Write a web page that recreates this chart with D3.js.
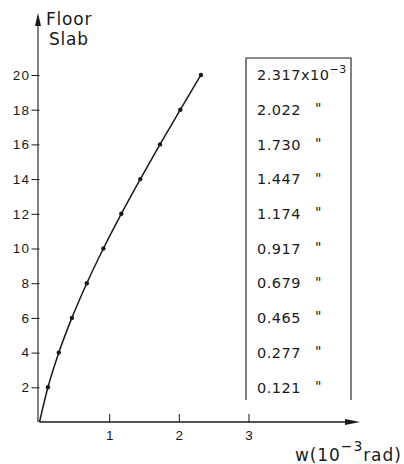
<!DOCTYPE html>
<html>
<head>
<meta charset="utf-8">
<script src="https://cdn.jsdelivr.net/npm/d3@7"></script>
<style>
  html, body { margin: 0; padding: 0; background: #fff; }
  svg { display: block; font-family: "DejaVu Sans", sans-serif; }
</style>
</head>
<body>
<svg id="chart" width="404" height="464"></svg>
<script>
// Slab rotation w (10^-3 rad) at each floor slab
const floors = [0, 2, 4, 6, 8, 10, 12, 14, 16, 18, 20];
const rotation = [0, 0.121, 0.277, 0.465, 0.679, 0.917, 1.174, 1.447, 1.730, 2.022, 2.317];
const tableLabels = ["2.317", "2.022", "1.730", "1.447", "1.174", "0.917", "0.679", "0.465", "0.277", "0.121"];
const tableFloors = [20, 18, 16, 14, 12, 10, 8, 6, 4, 2];
const yTicks = [2, 4, 6, 8, 10, 12, 14, 16, 18, 20];
const xTicks = [1, 2, 3];

const svg = d3.select("#chart");
const ink = "#1a1a1a";

const x = d3.scaleLinear().domain([0, 3]).range([39.5, 248.5]);
const y = d3.scaleLinear().domain([0, 20]).range([422, 75]);

// Axes
const gx = svg.append("g").attr("transform", `translate(0,${y(0)})`)
  .call(d3.axisBottom(x).tickValues(xTicks).tickSize(-8).tickPadding(8).tickFormat(d3.format("d")));
const gy = svg.append("g").attr("transform", `translate(${x(0)},0)`)
  .call(d3.axisLeft(y).tickValues(yTicks).tickSize(8).tickPadding(1).tickFormat(d3.format("d")));
[gx, gy].forEach(g => {
  g.select(".domain").remove();
  g.selectAll(".tick line").attr("stroke", ink).attr("stroke-width", 1);
  g.selectAll(".tick text").attr("fill", ink).attr("font-size", 13.5).attr("letter-spacing", 1.4);
});
gx.selectAll(".tick text").attr("dx", 0.7);

// Axis lines with arrowheads
svg.append("line").attr("x1", x(0)).attr("x2", 346).attr("y1", y(0)).attr("y2", y(0))
  .attr("stroke", ink).attr("stroke-width", 1.3);
svg.append("path").attr("d", `M345,${y(0) - 3}L360,${y(0)}L345,${y(0) + 3}Z`).attr("fill", ink);
svg.append("line").attr("x1", x(0) - 1.5).attr("x2", x(0) - 1.5).attr("y1", y(0)).attr("y2", 25)
  .attr("stroke", ink).attr("stroke-width", 1.1);
svg.append("path").attr("d", `M${x(0) - 4.5},26L${x(0) - 1.5},13L${x(0) + 1.5},26Z`).attr("fill", ink);

// Axis titles
svg.append("text").attr("x", 46).attr("y", 25).attr("font-size", 17).attr("letter-spacing", 0.8)
  .attr("fill", ink).text("Floor");
svg.append("text").attr("x", 49).attr("y", 45).attr("font-size", 17).attr("letter-spacing", 0.8)
  .attr("fill", ink).text("Slab");
const xt = svg.append("text").attr("x", 295).attr("y", 461).attr("font-size", 17)
  .attr("letter-spacing", 0.9).attr("fill", ink);
xt.append("tspan").text("w(10");
xt.append("tspan").attr("dy", -10).attr("font-size", 14).text("−3");
xt.append("tspan").attr("dy", 10).text("rad)");

// Rotation curve and points
const pts = floors.map((f, i) => ({ f, w: rotation[i] }));
svg.append("path").datum(pts)
  .attr("d", d3.line().x(d => x(d.w)).y(d => y(d.f)).curve(d3.curveMonotoneX))
  .attr("fill", "none").attr("stroke", ink).attr("stroke-width", 1.5);
svg.selectAll("circle.pt").data(pts.filter(d => d.f > 0)).join("circle")
  .attr("class", "pt").attr("cx", d => x(d.w)).attr("cy", d => y(d.f)).attr("r", 2.2).attr("fill", ink);

// Value table, open at the bottom
const tb = { left: 246, right: 351, top: 58, bottom: 400 };
svg.append("path")
  .attr("d", `M${tb.left},${tb.bottom}V${tb.top}H${tb.right}V${tb.bottom}`)
  .attr("fill", "none").attr("stroke", ink).attr("stroke-width", 1.1);
tableLabels.forEach((lab, i) => {
  const t = svg.append("text").attr("x", 257).attr("y", y(tableFloors[i]))
    .attr("dy", "0.36em").attr("font-size", 14.5).attr("letter-spacing", 0.5).attr("fill", ink);
  t.append("tspan").text(lab);
  if (i === 0) {
    t.append("tspan").text("x10");
    t.append("tspan").attr("dy", -7).attr("font-size", 11).text("−3");
  } else {
    svg.append("text").attr("x", 315).attr("y", y(tableFloors[i])).attr("dy", "0.25em")
      .attr("font-size", 14).attr("fill", ink).text("\"");
  }
});
</script>
</body>
</html>
